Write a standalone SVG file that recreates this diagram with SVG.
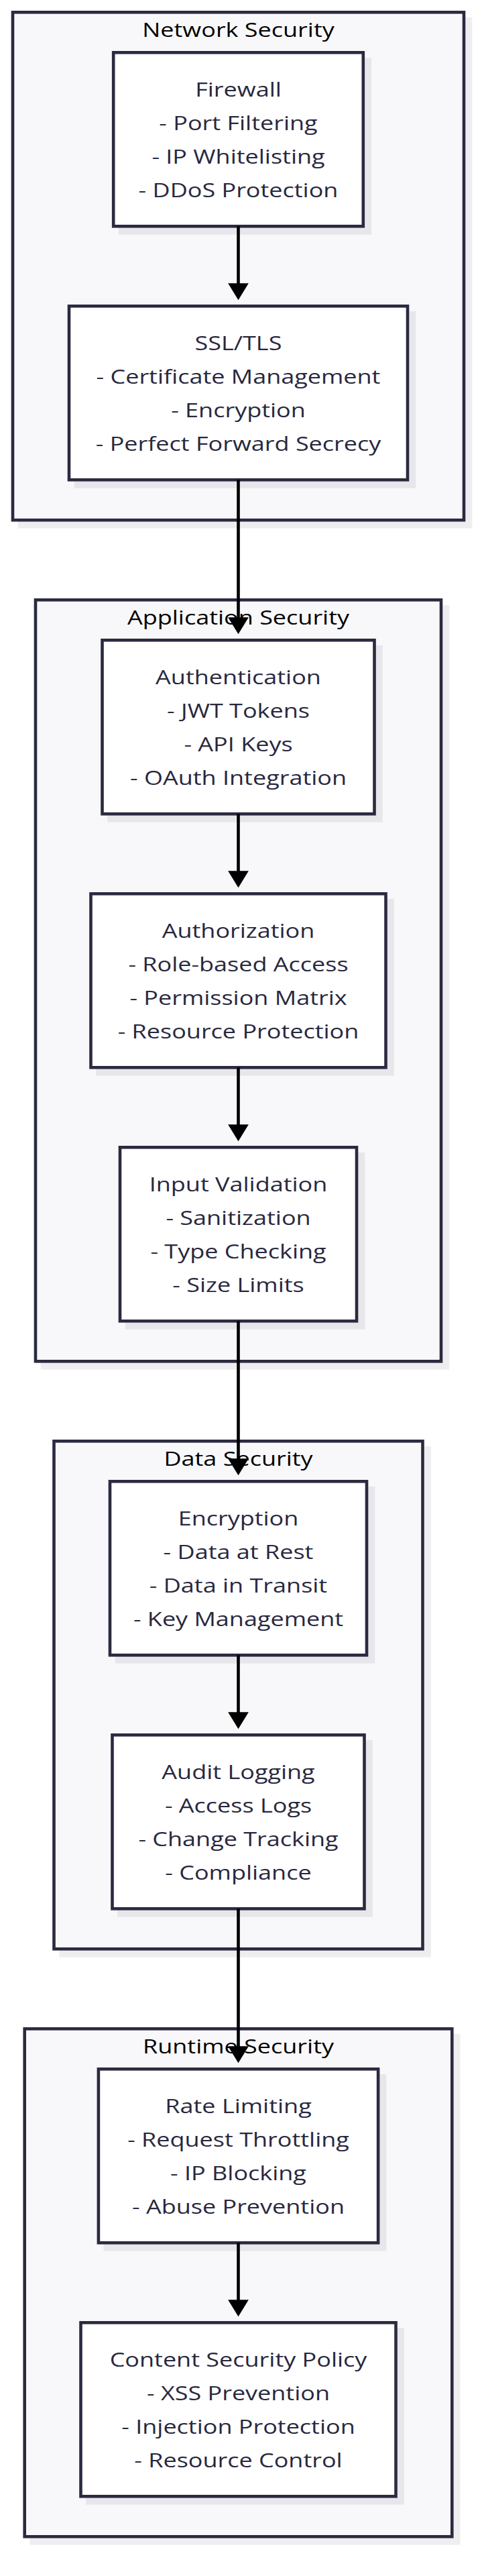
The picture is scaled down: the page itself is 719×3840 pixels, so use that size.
<svg xmlns="http://www.w3.org/2000/svg" width="719" height="3840" viewBox="0 0 719 3840">
<style>
.bg{fill:#ffffff}
.cl{fill:#f8f8fa;stroke:#2a2a40;stroke-width:4.6}
.cls{fill:#eeeef0;stroke:#eeeef0;stroke-width:4.6}
.nd{fill:#ffffff;stroke:#2a2a40;stroke-width:4.6}
.nds{fill:#e7e7eb;stroke:#e7e7eb;stroke-width:4.6}
.tt{font-family:"Open Sans","Noto Sans","DejaVu Sans",sans-serif;font-size:30px;fill:#000000;text-anchor:middle}
.nt{font-family:"Open Sans","Noto Sans","DejaVu Sans",sans-serif;font-size:30px;fill:#28283e;text-anchor:middle}
.ed{fill:none;stroke:#000000;stroke-width:4.6}
</style>
<defs>
<marker id="ah" markerUnits="userSpaceOnUse" viewBox="0 0 25 30.7" refX="5" refY="15.35" markerWidth="25" markerHeight="30.7" orient="auto">
<path d="M0,0 L25,15.35 L0,30.7 Z" fill="#000000"/>
</marker>
</defs>
<rect class="bg" x="0" y="0" width="719" height="3840"/>

<g id="cluster-network">
<rect class="cls" x="29" y="28.3" width="673" height="757"/>
<rect class="cl" x="19" y="18.3" width="673" height="757"/>
<text class="tt" transform="translate(355.5 55) scale(1.2 1)">Network Security</text>
</g>
<g id="cluster-application">
<rect class="cls" x="63" y="904.3" width="605" height="1135"/>
<rect class="cl" x="53" y="894.3" width="605" height="1135"/>
<text class="tt" transform="translate(355.5 931) scale(1.2 1)">Application Security</text>
</g>
<g id="cluster-data">
<rect class="cls" x="90.5" y="2158.3" width="550" height="757"/>
<rect class="cl" x="80.5" y="2148.3" width="550" height="757"/>
<text class="tt" transform="translate(355.5 2185) scale(1.2 1)">Data Security</text>
</g>
<g id="cluster-runtime">
<rect class="cls" x="46.7" y="3034.3" width="637.6" height="757"/>
<rect class="cl" x="36.7" y="3024.3" width="637.6" height="757"/>
<text class="tt" transform="translate(355.5 3061) scale(1.2 1)">Runtime Security</text>
</g>

<g id="node-firewall">
<rect class="nds" x="179.2" y="88.3" width="372.6" height="259"/>
<rect class="nd" x="169.2" y="78.3" width="372.6" height="259"/>
<text class="nt" transform="translate(355.5 78.3) scale(1.2 1)"><tspan x="0" y="65.7">Firewall</tspan><tspan x="0" y="115.7">- Port Filtering</tspan><tspan x="0" y="165.7">- IP Whitelisting</tspan><tspan x="0" y="215.7">- DDoS Protection</tspan></text>
</g>
<g id="node-ssl">
<rect class="nds" x="113" y="466.3" width="505" height="259"/>
<rect class="nd" x="103" y="456.3" width="505" height="259"/>
<text class="nt" transform="translate(355.5 456.3) scale(1.2 1)"><tspan x="0" y="65.7">SSL/TLS</tspan><tspan x="0" y="115.7">- Certificate Management</tspan><tspan x="0" y="165.7">- Encryption</tspan><tspan x="0" y="215.7">- Perfect Forward Secrecy</tspan></text>
</g>
<g id="node-authentication">
<rect class="nds" x="162.5" y="964.3" width="406" height="259"/>
<rect class="nd" x="152.5" y="954.3" width="406" height="259"/>
<text class="nt" transform="translate(355.5 954.3) scale(1.2 1)"><tspan x="0" y="65.7">Authentication</tspan><tspan x="0" y="115.7">- JWT Tokens</tspan><tspan x="0" y="165.7">- API Keys</tspan><tspan x="0" y="215.7">- OAuth Integration</tspan></text>
</g>
<g id="node-authorization">
<rect class="nds" x="145.5" y="1342.3" width="440" height="259"/>
<rect class="nd" x="135.5" y="1332.3" width="440" height="259"/>
<text class="nt" transform="translate(355.5 1332.3) scale(1.2 1)"><tspan x="0" y="65.7">Authorization</tspan><tspan x="0" y="115.7">- Role-based Access</tspan><tspan x="0" y="165.7">- Permission Matrix</tspan><tspan x="0" y="215.7">- Resource Protection</tspan></text>
</g>
<g id="node-input-validation">
<rect class="nds" x="189" y="1720.3" width="353" height="259"/>
<rect class="nd" x="179" y="1710.3" width="353" height="259"/>
<text class="nt" transform="translate(355.5 1710.3) scale(1.2 1)"><tspan x="0" y="65.7">Input Validation</tspan><tspan x="0" y="115.7">- Sanitization</tspan><tspan x="0" y="165.7">- Type Checking</tspan><tspan x="0" y="215.7">- Size Limits</tspan></text>
</g>
<g id="node-encryption">
<rect class="nds" x="174" y="2218.3" width="383" height="259"/>
<rect class="nd" x="164" y="2208.3" width="383" height="259"/>
<text class="nt" transform="translate(355.5 2208.3) scale(1.2 1)"><tspan x="0" y="65.7">Encryption</tspan><tspan x="0" y="115.7">- Data at Rest</tspan><tspan x="0" y="165.7">- Data in Transit</tspan><tspan x="0" y="215.7">- Key Management</tspan></text>
</g>
<g id="node-audit-logging">
<rect class="nds" x="177.5" y="2596.3" width="376" height="259"/>
<rect class="nd" x="167.5" y="2586.3" width="376" height="259"/>
<text class="nt" transform="translate(355.5 2586.3) scale(1.2 1)"><tspan x="0" y="65.7">Audit Logging</tspan><tspan x="0" y="115.7">- Access Logs</tspan><tspan x="0" y="165.7">- Change Tracking</tspan><tspan x="0" y="215.7">- Compliance</tspan></text>
</g>
<g id="node-rate-limiting">
<rect class="nds" x="156.9" y="3094.3" width="417.2" height="259"/>
<rect class="nd" x="146.9" y="3084.3" width="417.2" height="259"/>
<text class="nt" transform="translate(355.5 3084.3) scale(1.2 1)"><tspan x="0" y="65.7">Rate Limiting</tspan><tspan x="0" y="115.7">- Request Throttling</tspan><tspan x="0" y="165.7">- IP Blocking</tspan><tspan x="0" y="215.7">- Abuse Prevention</tspan></text>
</g>
<g id="node-csp">
<rect class="nds" x="130.5" y="3472.3" width="470" height="259"/>
<rect class="nd" x="120.5" y="3462.3" width="470" height="259"/>
<text class="nt" transform="translate(355.5 3462.3) scale(1.2 1)"><tspan x="0" y="65.7">Content Security Policy</tspan><tspan x="0" y="115.7">- XSS Prevention</tspan><tspan x="0" y="165.7">- Injection Protection</tspan><tspan x="0" y="215.7">- Resource Control</tspan></text>
</g>

<g id="connectors">
<path class="ed" marker-end="url(#ah)" d="M355.5,337.3 L355.5,427.3"/>
<path class="ed" marker-end="url(#ah)" d="M355.5,715.3 L355.5,925.3"/>
<path class="ed" marker-end="url(#ah)" d="M355.5,1213.3 L355.5,1303.3"/>
<path class="ed" marker-end="url(#ah)" d="M355.5,1591.3 L355.5,1681.3"/>
<path class="ed" marker-end="url(#ah)" d="M355.5,1969.3 L355.5,2179.3"/>
<path class="ed" marker-end="url(#ah)" d="M355.5,2467.3 L355.5,2557.3"/>
<path class="ed" marker-end="url(#ah)" d="M355.5,2845.3 L355.5,3055.3"/>
<path class="ed" marker-end="url(#ah)" d="M355.5,3343.3 L355.5,3433.3"/>
</g>
</svg>
